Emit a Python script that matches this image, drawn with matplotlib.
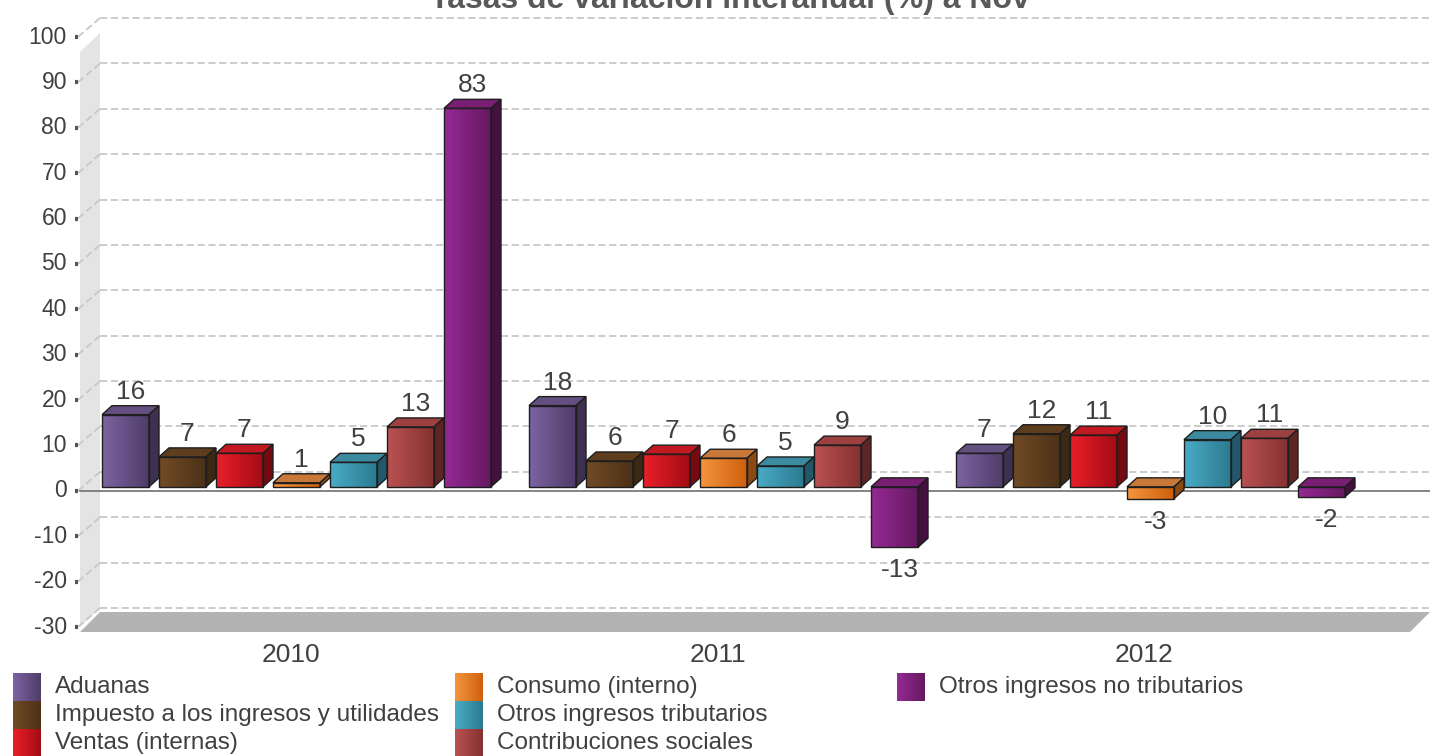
import numpy as np
import matplotlib
matplotlib.use("Agg")
import matplotlib.pyplot as plt
from matplotlib.colors import LinearSegmentedColormap
from matplotlib.patches import Polygon

plt.rcParams['font.family'] = ['Liberation Sans', 'DejaVu Sans']

# data
years = ['2010', '2011', '2012']
series = ['Aduanas', 'Impuesto a los ingresos y utilidades', 'Ventas (internas)',
          'Consumo (interno)', 'Otros ingresos tributarios', 'Contribuciones sociales',
          'Otros ingresos no tributarios']
aduanas = [15.9, 17.9, 7.4]
impuesto = [6.6, 5.7, 11.7]
ventas = [7.4, 7.2, 11.4]
consumo = [0.9, 6.3, -2.6]
otros_trib = [5.4, 4.6, 10.4]
contrib = [13.2, 9.2, 10.7]
otros_no_trib = [83.4, -13.3, -2.2]
values = [aduanas, impuesto, ventas, consumo, otros_trib, contrib, otros_no_trib]
yticks = list(range(-30, 101, 10))
title = 'Tasas de variación interanual (%) a Nov'

# (front light, front dark, top, side)
colors = [
    ('#7d64a3', '#4f3c68', '#634f80', '#3d3050'),
    ('#714b25', '#4c3118', '#5d3d1e', '#3a2914'),
    ('#ea1f2a', '#a30c15', '#c21821', '#760a10'),
    ('#f4963f', '#cf600d', '#c87838', '#8a4b12'),
    ('#4aabc6', '#2b7b90', '#3b8a9f', '#23586a'),
    ('#ba5252', '#853131', '#9c4040', '#5e2525'),
    ('#952a95', '#661861', '#7a1e74', '#44103f'),
]
text_col = '#404040'

# pixel geometry of the reference
W, H = 1430, 756
ax_l, ax_r, ax_t, ax_b = 80, 1410, 37, 627
ymin, ymax = -30, 100
px_y = (ax_b - ax_t) / (ymax - ymin)
group_px = 427
xmin = -(290.5 - ax_l) / group_px
xmax = xmin + (ax_r - ax_l) / group_px


def dx(p):
    return p / group_px


def dy(p):
    return p / px_y


fig = plt.figure(figsize=(W / 100, H / 100), dpi=100)
ax = fig.add_axes([ax_l / W, 1 - ax_b / H, (ax_r - ax_l) / W, (ax_b - ax_t) / H])
ax.set_xlim(xmin, xmax)
ax.set_ylim(ymin, ymax)
ax.axis('off')

back_dx, back_dy = dx(20), dy(19)

# left wall and floor
ax.add_patch(Polygon([(xmin, ymin), (xmin, ymax - dy(15)),
                      (xmin + back_dx, ymax - dy(15) + back_dy), (xmin + back_dx, ymin + back_dy)],
                     closed=True, fc='#e4e4e4', ec='none', zorder=0, clip_on=False))
ax.add_patch(Polygon([(xmin, ymin - dy(5)), (xmax, ymin - dy(5)),
                      (xmax + back_dx, ymin + dy(15)), (xmin + back_dx, ymin + dy(15))],
                     closed=True, fc='#b3b3b3', ec='none', zorder=0.5, clip_on=False))

# grid, ticks, tick labels
for t in yticks:
    ax.plot([xmin + back_dx, xmax + back_dx], [t + back_dy, t + back_dy], color='#c8c8c8',
            lw=1.3, ls=(0, (4, 2)), zorder=1, clip_on=False)
    ax.plot([xmin - dx(2), xmin + back_dx], [t, t + back_dy], color='#c8c8c8',
            lw=1.3, ls=(0, (4, 2)), zorder=1, clip_on=False)
    ax.plot([xmin - dx(5), xmin - dx(2)], [t, t], color='#555555', lw=3,
            solid_capstyle='butt', zorder=2, clip_on=False)
    ax.text(xmin - dx(13), t, str(t), ha='right', va='center', fontsize=16.5,
            color=text_col)

ax.plot([xmin, xmax + dx(20)], [0, 0], color='#707070', lw=1.2, zorder=1.5, clip_on=False)

# bars
pitch, width = dx(57), dx(47)
shift_x, lift = dx(6), dy(4)
bdx, bdy = dx(10), dy(9)
grad = np.linspace(0, 1, 64).reshape(1, -1)
x = np.arange(len(years))
for i, vals in enumerate(values):
    light, dark, top_c, side_c = colors[i]
    cmap = LinearSegmentedColormap.from_list('g%d' % i, [light, dark])
    pos = x + (i - 3) * pitch + shift_x
    bars = ax.bar(pos, vals, width, bottom=lift, color='none', edgecolor='#1e1e1e',
                  lw=1, zorder=4)
    for b, v in zip(bars, vals):
        x0 = b.get_x()
        x1 = x0 + b.get_width()
        lo = min(lift, lift + v)
        hi = max(lift, lift + v)
        ax.imshow(grad, extent=(x0, x1, lo, hi), cmap=cmap, aspect='auto',
                  interpolation='bilinear', zorder=3)
        ax.add_patch(Polygon([(x0, hi), (x1, hi), (x1 + bdx, hi + bdy), (x0 + bdx, hi + bdy)],
                             closed=True, fc=top_c, ec='#1e1e1e', lw=1, zorder=3.5))
        ax.add_patch(Polygon([(x1, lo), (x1 + bdx, lo + bdy), (x1 + bdx, hi + bdy), (x1, hi)],
                             closed=True, fc=side_c, ec='#1e1e1e', lw=1, zorder=3.5))
        cx = (x0 + x1) / 2 + dx(5)
        if v >= 0:
            ax.text(cx, hi + bdy + dy(2), '%.0f' % v, ha='center', va='bottom',
                    fontsize=19, color=text_col, zorder=5)
        else:
            ax.text(cx, lo - dy(11), '%.0f' % v, ha='center', va='top',
                    fontsize=19, color=text_col, zorder=5)

ax.set_xlim(xmin, xmax)
ax.set_ylim(ymin, ymax)

# category labels
for gx, yr in zip(x, years):
    ax.text(gx, ymin - dy(28), yr, ha='center', va='center', fontsize=19,
            color=text_col, clip_on=False)

# overlay for title and legend (pixel coords)
lax = fig.add_axes([0, 0, 1, 1])
lax.set_xlim(0, W)
lax.set_ylim(H, 0)
lax.axis('off')
lax.patch.set_alpha(0)

lax.text(730, 8, title, ha='center', va='baseline', fontsize=23, fontweight='bold',
         color='#595959')

col_x = [13, 455, 897]
row_y = [673, 701, 729]
for i, name in enumerate(series):
    px = col_x[i // 3]
    py = row_y[i % 3]
    cmap = LinearSegmentedColormap.from_list('l%d' % i, [colors[i][0], colors[i][1]])
    lax.imshow(grad, extent=(px, px + 28, py + 28, py), cmap=cmap, aspect='auto',
               interpolation='bilinear')
    lax.text(px + 42, py + 14, name, ha='left', va='center', fontsize=17.5, color=text_col)
lax.set_xlim(0, W)
lax.set_ylim(H, 0)

fig.savefig('out.png', dpi=100)
